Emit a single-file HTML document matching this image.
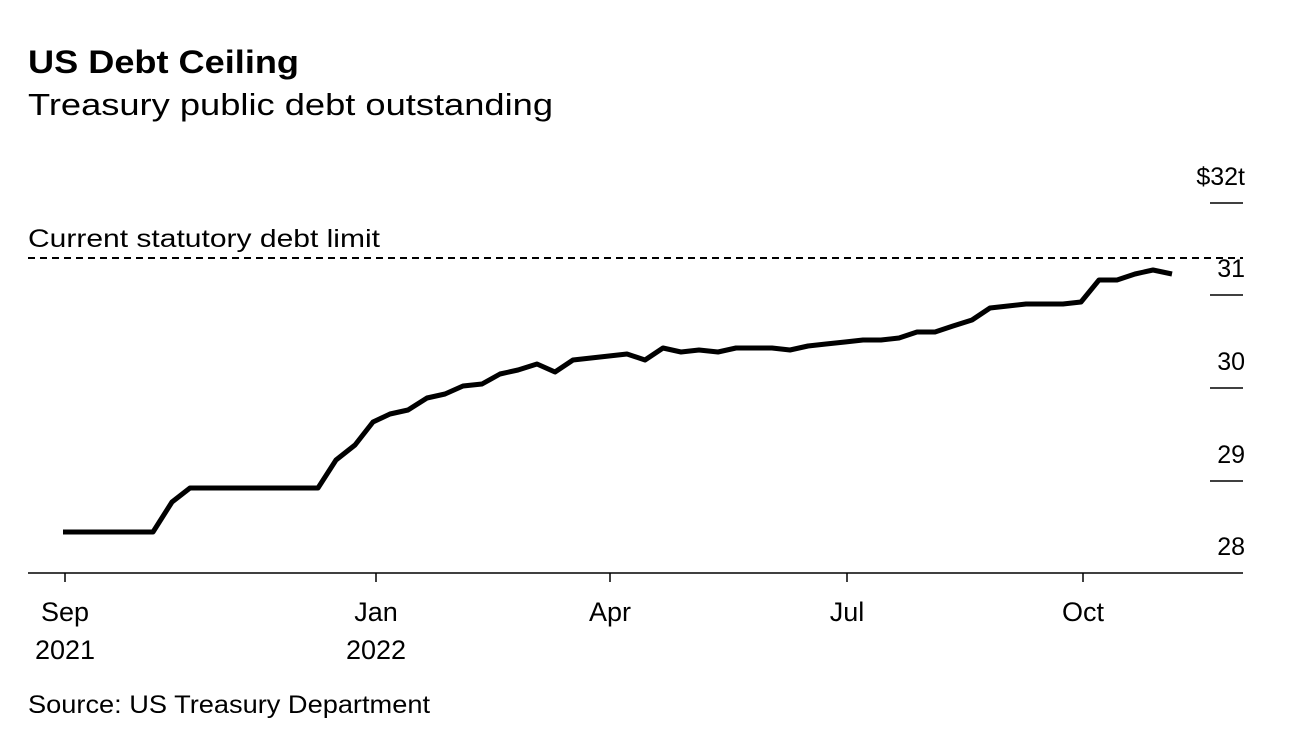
<!DOCTYPE html>
<html><head><meta charset="utf-8"><style>
body{margin:0;background:#fff;width:1296px;height:744px;overflow:hidden;font-family:"Liberation Sans",Arial,sans-serif;}
</style></head><body>
<svg width="1296" height="744" xmlns="http://www.w3.org/2000/svg" font-family="Liberation Sans, Arial, sans-serif">
<text x="28" y="73" font-size="32" font-weight="bold" fill="#000" textLength="271" lengthAdjust="spacingAndGlyphs">US Debt Ceiling</text>
<text x="28" y="115" font-size="31" fill="#000" textLength="525" lengthAdjust="spacingAndGlyphs">Treasury public debt outstanding</text>
<text x="28" y="247" font-size="25" fill="#000" textLength="352" lengthAdjust="spacingAndGlyphs">Current statutory debt limit</text>
<line x1="28" y1="258" x2="1243" y2="258" stroke="#000" stroke-width="2" stroke-dasharray="7,5"/>
<g stroke="#000" stroke-width="1.5">
<line x1="1210" y1="203" x2="1243" y2="203"/>
<line x1="1210" y1="295" x2="1243" y2="295"/>
<line x1="1210" y1="388" x2="1243" y2="388"/>
<line x1="1210" y1="481" x2="1243" y2="481"/>
<line x1="28" y1="573" x2="1243" y2="573"/>
<line x1="65" y1="573" x2="65" y2="582"/>
<line x1="376" y1="573" x2="376" y2="582"/>
<line x1="610" y1="573" x2="610" y2="582"/>
<line x1="847" y1="573" x2="847" y2="582"/>
<line x1="1083" y1="573" x2="1083" y2="582"/>
</g>
<g font-size="25" fill="#000" text-anchor="end">
<text x="1245" y="185">$32t</text>
<text x="1245" y="277">31</text>
<text x="1245" y="370">30</text>
<text x="1245" y="463">29</text>
<text x="1245" y="555">28</text>
</g>
<g font-size="27" fill="#000" text-anchor="middle">
<text x="65" y="621">Sep</text><text x="65" y="659">2021</text>
<text x="376" y="621">Jan</text><text x="376" y="659">2022</text>
<text x="610" y="621">Apr</text>
<text x="847" y="621">Jul</text>
<text x="1083" y="621">Oct</text>
</g>
<polyline fill="none" stroke="#000" stroke-width="5" stroke-linejoin="round" points="63,532 153,532 172,502 190,488 318,488 336,460 355,445 373,422 390,414 408,410 427,398 445,394 463,386 482,384 500,374 518,370 537,364 555,372 573,360 591,358 609,356 627,354 645,360 663,348 681,352 699,350 718,352 736,348 772,348 790,350 808,346 826,344 845,342 863,340 881,340 899,338 917,332 935,332 953,326 972,320 990,308 1008,306 1026,304 1063,304 1081,302 1099,280 1117,280 1135,274 1153,270 1172,274"/>
<text x="28" y="713" font-size="25" fill="#000" textLength="402" lengthAdjust="spacingAndGlyphs">Source: US Treasury Department</text>
</svg>
</body></html>
